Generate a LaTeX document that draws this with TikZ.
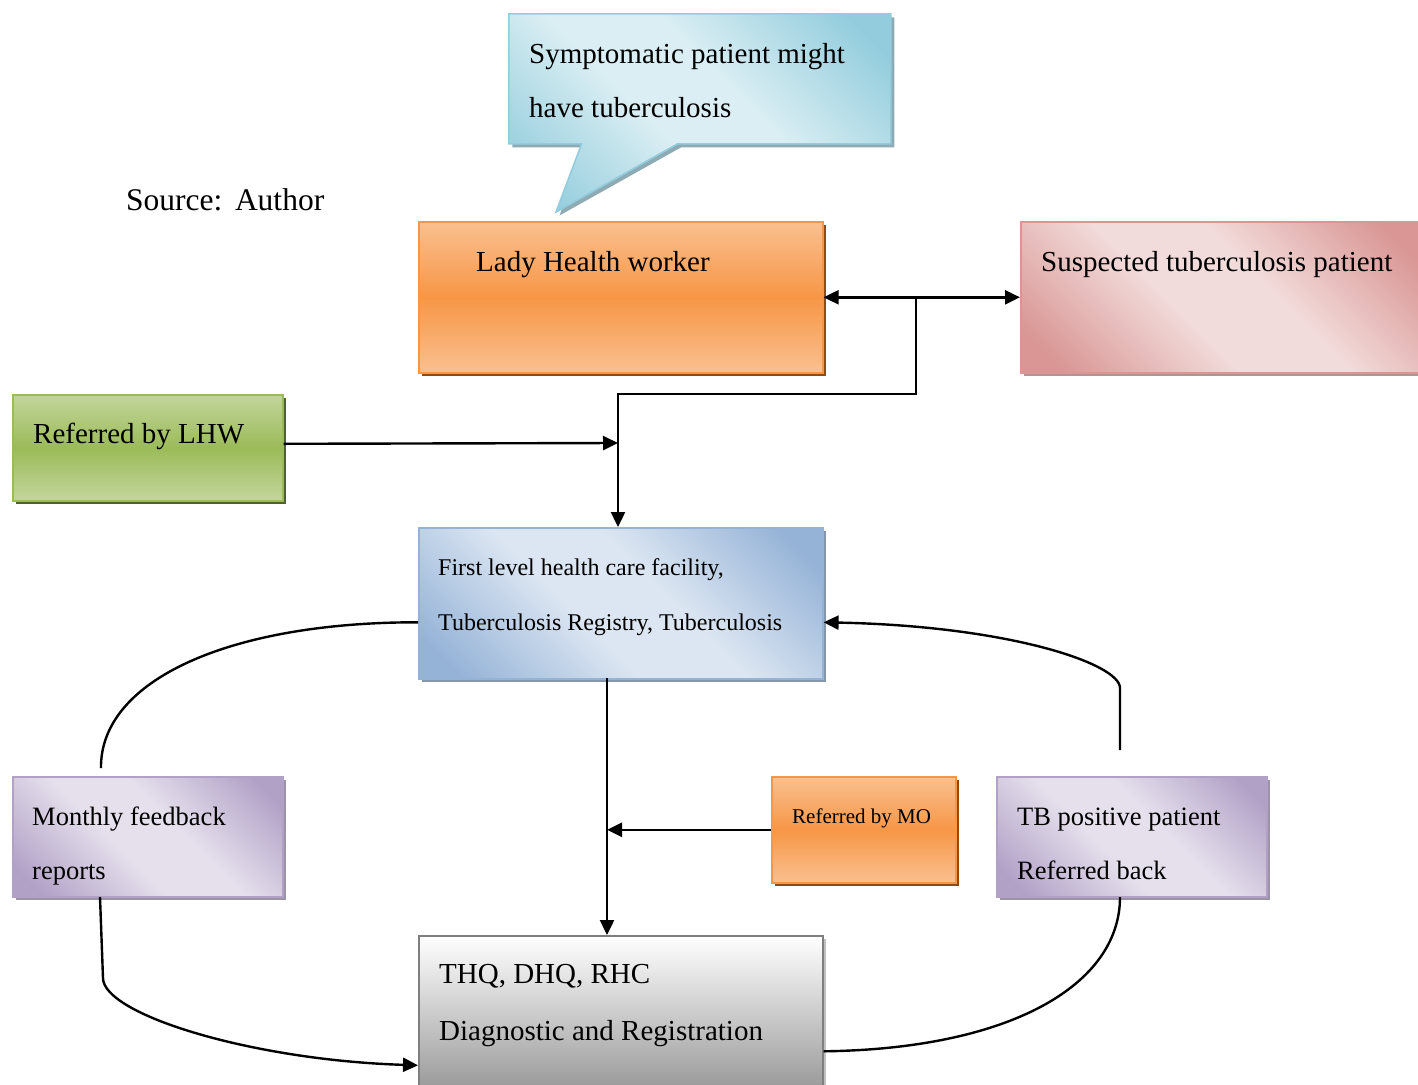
\documentclass[tikz,border=0pt]{standalone}
\usepackage{fontspec}
\setmainfont{Liberation Serif}
\usetikzlibrary{arrows.meta,shapes.callouts,shadows}

% fill, border and shadow colours of the boxes
\definecolor{orDark}{HTML}{F79646}
\definecolor{orLight}{HTML}{FAC090}
\definecolor{orShadow}{HTML}{984807}
\definecolor{grDark}{HTML}{9BBB59}
\definecolor{grLight}{HTML}{C3D69B}
\definecolor{grShadow}{HTML}{4F6228}
\definecolor{blDark}{HTML}{95B3D7}
\definecolor{blLight}{HTML}{DCE6F2}
\definecolor{blShadow}{HTML}{8595AB}
\definecolor{pkDark}{HTML}{D99694}
\definecolor{pkLight}{HTML}{F2DCDB}
\definecolor{pkShadow}{HTML}{B39494}
\definecolor{puDark}{HTML}{B2A1C7}
\definecolor{puLight}{HTML}{E5E0EC}
\definecolor{puShadow}{HTML}{9B94A4}
\definecolor{cyDark}{HTML}{93CDDD}
\definecolor{cyLight}{HTML}{DAEEF3}
\definecolor{cyShadow}{HTML}{8EAAB3}
\definecolor{gyDark}{HTML}{9A9A9A}
\definecolor{gyBorder}{HTML}{7F7F7F}
\definecolor{gyShadow}{HTML}{C0C0C0}

% corner shading: strong colour near two opposite corners, light between
\colorlet{diagDk}{blDark}
\colorlet{diagLt}{blLight}
\pgfdeclareverticalshading[diagDk,diagLt]{cornershade}{100bp}{%
  color(0bp)=(diagDk); color(20bp)=(diagDk); color(43bp)=(diagLt);
  color(57bp)=(diagLt); color(80bp)=(diagDk); color(100bp)=(diagDk)}

\tikzset{
  boxbase/.style={anchor=north west, inner sep=0pt, line width=1.6pt},
  boxsize/.style 2 args={minimum width=#1pt, minimum height=#2pt},
  shadowof/.style={drop shadow={shadow xshift=3.5pt, shadow yshift=-3.5pt, fill=#1, opacity=1}},
  % light at top and bottom, strong colour across the middle
  bandbox/.style n args={3}{boxbase, draw=#1, top color=#2, bottom color=#2, middle color=#1, shadowof=#3},
  % strong colour in the top right and bottom left corners
  diagbox/.style n args={3}{boxbase, draw=#1,
    /utils/exec={\colorlet{diagDk}{#1}\colorlet{diagLt}{#2}},
    shading=cornershade, shading angle=-45, shadowof=#3},
  txt/.style={anchor=base west, inner sep=0pt, font=\fontsize{29}{29}\selectfont},
  midtxt/.style={txt, font=\fontsize{26.5}{26.5}\selectfont},
  smalltxt/.style={txt, font=\fontsize{24}{24}\selectfont},
  tinytxt/.style={txt, font=\fontsize{21}{21}\selectfont},
  conn/.style={line width=2.4pt},
  tip/.tip={Triangle[length=15pt, width=14pt]},
  arr/.style={conn, -tip},
  dblarr/.style={conn, tip-tip},
}

\begin{document}
\begin{tikzpicture}[x=1pt, y=-1pt]
\useasboundingbox (0,0) rectangle (1418,1084);

% ---- boxes ----
\node[diagbox={cyDark}{cyLight}{cyShadow}, rectangle callout,
      callout absolute pointer={(556,212)}, callout pointer width=96pt,
      boxsize={382}{130}] (symp) at (508,13) {};
\node[bandbox={orDark}{orLight}{orShadow}, boxsize={404}{151}] (lhw) at (418,221) {};
\node[diagbox={pkDark}{pkLight}{pkShadow}, boxsize={402}{151}] (susp) at (1020,221) {};
\node[bandbox={grDark}{grLight}{grShadow}, boxsize={270}{106}] (reflhw) at (12,394) {};
\node[diagbox={blDark}{blLight}{blShadow}, boxsize={404}{151}] (first) at (418,527) {};
\node[diagbox={puDark}{puLight}{puShadow}, boxsize={270}{120}] (monthly) at (12,776) {};
\node[bandbox={orDark}{orLight}{orShadow}, boxsize={184}{106}] (refmo) at (771,776) {};
\node[diagbox={puDark}{puLight}{puShadow}, boxsize={270}{120}] (tbpos) at (996,776) {};
\node[boxbase, draw=gyBorder, top color=white, bottom color=gyDark,
      shadowof=gyShadow, boxsize={404}{153}] (thq) at (418,935) {};

% ---- texts ----
\node[txt] (symp1) at (529,63) {Symptomatic patient might};
\node[txt] (symp2) at (529,117) {have tuberculosis};
\node[txt, font=\fontsize{31.5}{31.5}\selectfont] (source) at (126,210) {Source:\hspace{0.4em}Author};
\node[txt] (lhwt) at (476,271) {Lady Health worker};
\node[txt] (suspt) at (1041,271) {Suspected tuberculosis patient};
\node[txt] (reflhwt) at (33,443) {Referred by LHW};
\node[smalltxt] (first1) at (438,575) {First level health care facility,};
\node[smalltxt] (first2) at (438,630) {Tuberculosis Registry, Tuberculosis};
\node[midtxt] (month1) at (32,825) {Monthly feedback};
\node[midtxt] (month2) at (32,879) {reports};
\node[tinytxt] (refmot) at (792,823) {Referred by MO};
\node[midtxt] (tb1) at (1017,825) {TB positive patient};
\node[midtxt] (tb2) at (1017,879) {Referred back};
\node[txt] (thq1) at (439,983) {THQ, DHQ, RHC};
\node[txt] (thq2) at (439,1040) {Diagnostic and Registration};

% ---- connector end points ----
\coordinate (split) at (916,299);
\coordinate (join) at (618,394);
\coordinate (firstbot) at (607,678);
\coordinate (monthtop) at (101,768);
\coordinate (monthbot) at (100,897);
\coordinate (tbtop) at (1120,750);
\coordinate (tbbot) at (1120,897);

% ---- connectors ----
\draw[dblarr] (lhw.east) -- (susp.west);
\draw[arr] (split) -- (split |- join) -- (join) -- (join |- first.north);
\draw[arr] ([yshift=4pt]reflhw.east) -- (join |- 0,443);
\draw[arr] (firstbot) -- (firstbot |- thq.north);
\draw[arr] (refmo.west) -- (refmo.west -| firstbot);
\draw[conn] ([yshift=-19pt]first.west) .. controls (230,622) and (100,680) .. (monthtop);
\draw[arr] (tbtop) -- (1120,688) .. controls (1120,664) and (1010,626) .. ([yshift=-19pt]first.east);
\draw[arr] (monthbot) -- (103,978) .. controls (103,1014) and (250,1060) .. ([yshift=-53pt]thq.west);
\draw[conn] (tbbot) .. controls (1120,985) and (1010,1049) .. ([yshift=-39pt]thq.east);
\end{tikzpicture}
\end{document}
